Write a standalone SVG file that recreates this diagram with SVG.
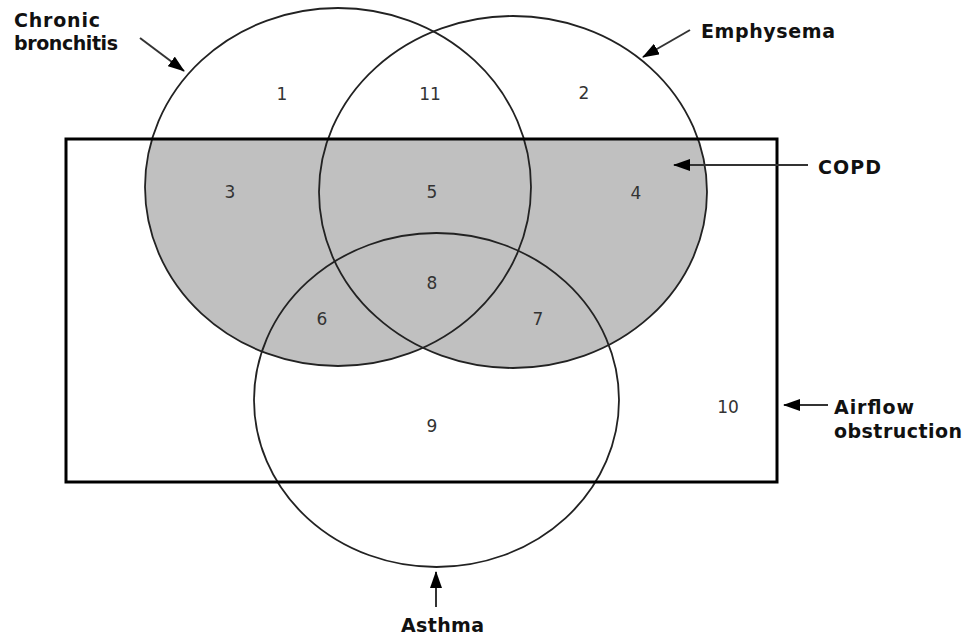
<svg xmlns="http://www.w3.org/2000/svg" width="970" height="640" viewBox="0 0 970 640">
<style>
.num{font-family:"DejaVu Sans",Verdana,sans-serif;font-size:17px;fill:#333;text-anchor:middle}
.lbl{font-family:"DejaVu Sans",Verdana,sans-serif;font-size:19px;font-weight:bold;fill:#111}
.ring{fill:none;stroke:#222;stroke-width:1.8}
.arr{stroke:#333;stroke-width:2;fill:none;marker-end:url(#ah)}
</style>
<defs>
<marker id="ah" markerWidth="17" markerHeight="12" refX="16" refY="6" orient="auto" markerUnits="userSpaceOnUse">
<path d="M0,0 L17,6 L0,12 Z" fill="#000"/>
</marker>
<clipPath id="box"><rect x="66" y="139" width="711" height="343"/></clipPath>
</defs>
<rect width="970" height="640" fill="#fff"/>
<g id="copd-shade" clip-path="url(#box)" fill="#c0c0c0">
<ellipse cx="338" cy="187" rx="193" ry="179"/>
<ellipse cx="513" cy="192" rx="194" ry="176"/>
</g>
<g id="chronic-bronchitis"><ellipse class="ring" cx="338" cy="187" rx="193" ry="179"/></g>
<g id="emphysema"><ellipse class="ring" cx="513" cy="192" rx="194" ry="176"/></g>
<g id="asthma"><ellipse class="ring" cx="436.5" cy="400" rx="182.5" ry="167"/></g>
<g id="airflow-obstruction"><rect x="66" y="139" width="711" height="343" fill="none" stroke="#000" stroke-width="3"/></g>
<g id="numbers">
<text class="num" x="282" y="100">1</text>
<text class="num" x="430" y="100">11</text>
<text class="num" x="584" y="99">2</text>
<text class="num" x="230" y="198">3</text>
<text class="num" x="432" y="198">5</text>
<text class="num" x="636" y="199">4</text>
<text class="num" x="432" y="289">8</text>
<text class="num" x="322" y="325">6</text>
<text class="num" x="538" y="325">7</text>
<text class="num" x="432" y="432">9</text>
<text class="num" x="728" y="413">10</text>
</g>
<g id="labels">
<text class="lbl" x="14" y="27" textLength="86" lengthAdjust="spacing">Chronic</text>
<text class="lbl" x="14" y="50" textLength="104" lengthAdjust="spacing">bronchitis</text>
<text class="lbl" x="701" y="38" textLength="134" lengthAdjust="spacing">Emphysema</text>
<text class="lbl" x="818" y="174" textLength="63" lengthAdjust="spacing">COPD</text>
<text class="lbl" x="834" y="414" textLength="80" lengthAdjust="spacing">Airflow</text>
<text class="lbl" x="834" y="438" textLength="128" lengthAdjust="spacing">obstruction</text>
<text class="lbl" x="401" y="632" textLength="83" lengthAdjust="spacing">Asthma</text>
</g>
<g id="connectors">
<line class="arr" x1="140" y1="38" x2="184" y2="71"/>
<line class="arr" x1="690" y1="30" x2="643" y2="57"/>
<line class="arr" x1="808" y1="165" x2="674" y2="165"/>
<line class="arr" x1="828" y1="405" x2="784" y2="405"/>
<line class="arr" x1="436" y1="607" x2="436" y2="572"/>
</g>
</svg>
